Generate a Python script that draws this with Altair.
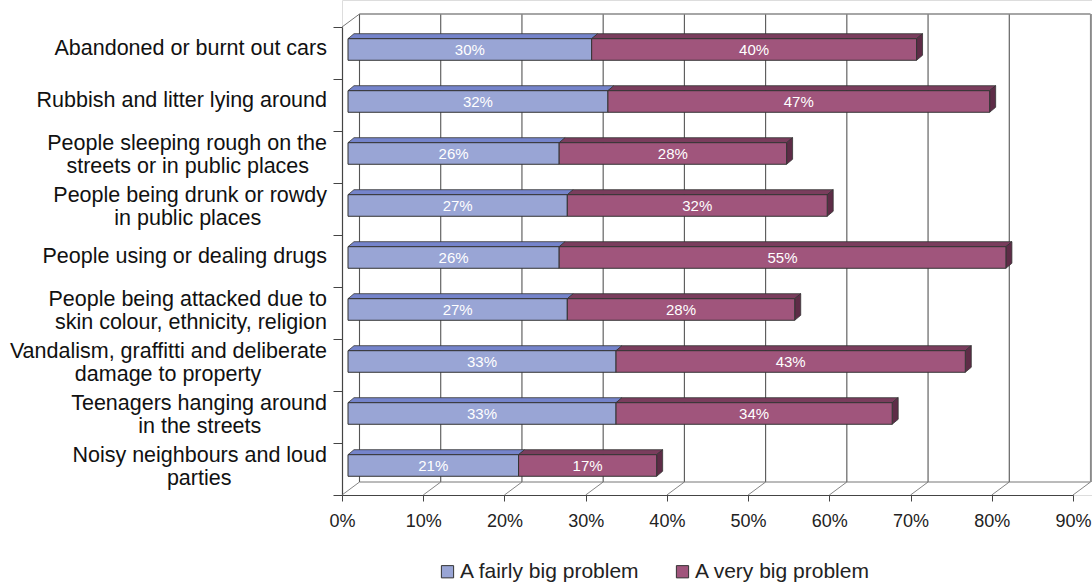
import altair as alt
import pandas as pd

# ---------------- data ----------------
categories = [
    ["Abandoned or burnt out cars"],
    ["Rubbish and litter lying around"],
    ["People sleeping rough on the", "streets or in public places"],
    ["People being drunk or rowdy", "in public places"],
    ["People using or dealing drugs"],
    ["People being attacked due to", "skin colour, ethnicity, religion"],
    ["Vandalism, graffitti and deliberate", "damage to property"],
    ["Teenagers hanging around", "in the streets"],
    ["Noisy neighbours and loud", "parties"],
]
fairly_big = [30, 32, 26, 27, 26, 27, 33, 33, 21]
very_big = [40, 47, 28, 32, 55, 28, 43, 34, 17]
series_names = ["A fairly big problem", "A very big problem"]
x_ticks = [0, 10, 20, 30, 40, 50, 60, 70, 80, 90]

# ---------------- style / geometry constants ----------------
FONT = "Liberation Sans"
FRONT_COLORS = ["#99A5D5", "#A0557C"]
TOP_COLORS = ["#7584CB", "#7A3D5D"]
SIDE_COLOR = "#5E2C47"
EDGE = "#333333"
GRID = "#555555"

X_MAX = 90
X_PX = 731.0              # pixel length of the 0..90 range
PXU = X_PX / X_MAX        # px per percent
ROWS = len(categories)
ROW_PX = 52.0
BACK_DX = 17.5 / PXU      # depth of the 3D box (data units)
BACK_DY = 13.0 / ROW_PX
BAR_DX = 6.0 / PXU        # bars sit a little behind the front plane
BAR_TOP = 0.225
BAR_BOT = 0.64
DEPTH_X = 6.0 / PXU       # depth of each bar
DEPTH_Y = 5.0 / ROW_PX
LABEL_GAP = 15.0 / PXU    # category labels end this far left of the axis
LABEL_SHIFT_1 = -4.0 / ROW_PX    # single-line label offset from band centre
LABEL_SHIFT_2 = -13.0 / ROW_PX   # first line of two-line labels

# Arial/Liberation Sans advance widths (per 1000 em) to centre multi-line labels
W = {" ": 278, ",": 278, ".": 278, "a": 556, "b": 556, "c": 500, "d": 556, "e": 556,
     "f": 278, "g": 556, "h": 556, "i": 222, "j": 222, "k": 500, "l": 222, "m": 833,
     "n": 556, "o": 556, "p": 556, "q": 556, "r": 333, "s": 500, "t": 278, "u": 556,
     "v": 500, "w": 722, "x": 500, "y": 500, "z": 500, "A": 667, "N": 667, "P": 667,
     "R": 722, "T": 611, "V": 667}


def tw(s):
    return sum(W.get(c, 556) for c in s)


def label_text(lines):
    # pad shorter lines with no-break spaces (kept alive by a zero-width
    # space) so that right-aligned lines appear centred on each other
    if len(lines) == 1:
        return lines[0]
    m = max(tw(l) for l in lines)
    out = []
    for l in lines:
        n = int(round((m - tw(l)) / 2 / 278))
        out.append(l + ("\u00a0" * n + "\u200b" if n else ""))
    return "\n".join(out)


labels = [label_text(c) for c in categories]

# ---------------- tables ----------------
rows = []
for i, lab in enumerate(labels):
    start = 0
    for s, vals in zip(series_names, [fairly_big, very_big]):
        v = vals[i]
        rows.append({"label": lab, "row": i, "series": s, "value": v,
                     "start": start, "end": start + v, "seg": f"{i}-{s}"})
        start += v
seg_df = pd.DataFrame(rows)
faces_df = pd.concat([seg_df.assign(k=0), seg_df.assign(k=1)], ignore_index=True)
tick_df = pd.DataFrame({"v": x_ticks})
cat_df = pd.DataFrame({"label": labels, "row": list(range(ROWS))})
one = alt.Data(values=[{"a": 1}])

xs = alt.Scale(domain=[0, X_MAX], range=[0, X_PX], nice=False, zero=False)
ys = alt.Scale(domain=[0, ROWS], range=[27, 27 + ROWS * ROW_PX], nice=False, zero=False)


def X(f, **kw):
    return alt.X(f, type="quantitative", scale=xs, axis=None, **kw)


def Y(f, **kw):
    return alt.Y(f, type="quantitative", scale=ys, axis=None, **kw)


# ---------------- frame (3D box) ----------------
back_grid = alt.Chart(tick_df).transform_calculate(
    xb=f"datum.v + {BACK_DX}", yt=f"{-BACK_DY}", yb=f"{ROWS - BACK_DY}"
).mark_rule(color=GRID, strokeWidth=1.1).encode(
    x=X("xb"), y=Y("yt"), y2="yb:Q")

floor_diag = alt.Chart(tick_df).transform_calculate(
    xb=f"datum.v + {BACK_DX}", yf=f"{ROWS}", yb=f"{ROWS - BACK_DY}"
).mark_rule(color="#666666", strokeWidth=0.8).encode(
    x=X("v"), x2="xb:Q", y=Y("yf"), y2="yb:Q")

back_top = alt.Chart(one).mark_rule(color="#888888", strokeWidth=1.3).encode(
    x=alt.X(datum=BACK_DX, type="quantitative", scale=xs, axis=None),
    x2=alt.X2(datum=X_MAX + BACK_DX),
    y=alt.Y(datum=-BACK_DY, type="quantitative", scale=ys, axis=None))

back_floor = alt.Chart(one).mark_rule(color="#777777", strokeWidth=1).encode(
    x=alt.X(datum=BACK_DX, type="quantitative", scale=xs, axis=None),
    x2=alt.X2(datum=X_MAX + BACK_DX),
    y=alt.Y(datum=ROWS - BACK_DY, type="quantitative", scale=ys, axis=None))

left_diag = alt.Chart(one).mark_rule(color="#777777", strokeWidth=1).encode(
    x=alt.X(datum=0, type="quantitative", scale=xs, axis=None),
    x2=alt.X2(datum=BACK_DX),
    y=alt.Y(datum=0, type="quantitative", scale=ys, axis=None),
    y2=alt.Y2(datum=-BACK_DY))

right_edge = alt.Chart(one).mark_rule(color="#9a9a9a", strokeWidth=2.5).encode(
    x=alt.X(datum=X_MAX + BACK_DX + 0.12, type="quantitative", scale=xs, axis=None),
    y=alt.Y(datum=-BACK_DY, type="quantitative", scale=ys, axis=None),
    y2=alt.Y2(datum=ROWS - BACK_DY))

# ---------------- bars ----------------
top_fill = alt.condition(alt.datum.series == series_names[0],
                         alt.value(TOP_COLORS[0]), alt.value(TOP_COLORS[1]))

top_faces = alt.Chart(faces_df).transform_calculate(
    xa=f"datum.start + {BAR_DX} + datum.k * {DEPTH_X}",
    xb=f"datum.end + {BAR_DX} + datum.k * {DEPTH_X}",
    yy=f"datum.row + {BAR_TOP} - datum.k * {DEPTH_Y}",
).mark_area(orient="horizontal", stroke=EDGE, strokeWidth=0.8).encode(
    y=Y("yy", stack=None), x=X("xa", stack=None), x2="xb:Q",
    detail="seg:N", fill=top_fill)

side_faces = alt.Chart(faces_df).transform_filter(
    alt.datum.series == series_names[1]
).transform_calculate(
    xx=f"datum.end + {BAR_DX} + datum.k * {DEPTH_X}",
    ya=f"datum.row + {BAR_TOP} - datum.k * {DEPTH_Y}",
    yb=f"datum.row + {BAR_BOT} - datum.k * {DEPTH_Y}",
).mark_area(orient="vertical", stroke=EDGE, strokeWidth=0.8, fill=SIDE_COLOR).encode(
    x=X("xx", stack=None), y=Y("ya", stack=None), y2="yb:Q", detail="seg:N")

x_axis = alt.Axis(values=x_ticks, labelExpr="datum.value + '%'", orient="bottom",
                  title=None, grid=False, domainColor="#444444", tickColor="#444444",
                  tickSize=6, labelFontSize=18, labelFont=FONT, labelColor="#222222",
                  labelPadding=11, domainWidth=1, labelFlush=False)

front_faces = alt.Chart(seg_df).transform_calculate(
    xa=f"datum.start + {BAR_DX}", xb=f"datum.end + {BAR_DX}",
    ya=f"datum.row + {BAR_TOP}", yb=f"datum.row + {BAR_BOT}",
).mark_rect(stroke=EDGE, strokeWidth=1).encode(
    x=alt.X("xa:Q", scale=xs, axis=x_axis), x2="xb:Q",
    y=Y("ya"), y2="yb:Q",
    color=alt.Color("series:N",
                    scale=alt.Scale(domain=series_names, range=FRONT_COLORS),
                    legend=alt.Legend(orient="none", legendX=95, legendY=561,
                                      direction="horizontal", title=None,
                                      symbolType="square", symbolSize=150,
                                      symbolStrokeColor=EDGE, symbolStrokeWidth=1,
                                      labelFontSize=21, labelFont=FONT,
                                      labelColor="#222222", labelOffset=2,
                                      columnPadding=32, padding=0, labelLimit=400)))

bar_labels = alt.Chart(seg_df).transform_calculate(
    xm=f"(datum.start + datum.end) / 2 + {BAR_DX}",
    ym=f"datum.row + {(BAR_TOP + BAR_BOT) / 2}",
    txt="datum.value + '%'",
).mark_text(color="white", fontSize=15, font=FONT, baseline="middle", dy=1).encode(
    x=X("xm"), y=Y("ym"), text="txt:N")

# ---------------- category axis (ticks + domain) ----------------
y_axis_layer = alt.Chart(cat_df).mark_tick(opacity=0).encode(
    x=alt.X(datum=0, type="quantitative", scale=xs, axis=None),
    y=alt.Y("label:N", sort=None,
            scale=alt.Scale(domain=labels, range=[27, 27 + ROWS * ROW_PX],
                            paddingInner=0, paddingOuter=0),
            axis=alt.Axis(orient="left", title=None, tickBand="extent", tickSize=9,
                          tickColor="#444444", domainColor="#444444", domainWidth=1.2,
                          labels=False, grid=False)))

# ---------------- category labels ----------------
cat_labels = alt.Chart(cat_df).transform_calculate(
    nl="length(split(datum.label, '\\n'))",
).transform_calculate(
    ly=f"datum.row + 0.5 + (datum.nl > 1 ? {LABEL_SHIFT_2} : {LABEL_SHIFT_1})",
).mark_text(align="right", baseline="middle", fontSize=21.5, font=FONT,
            color="#111111", lineBreak="\n", lineHeight=23).encode(
    x=alt.X(datum=-LABEL_GAP, type="quantitative", scale=xs, axis=None),
    y=Y("ly"), text="label:N")

chart = alt.layer(
    back_grid, floor_diag, back_top, back_floor, left_diag, right_edge,
    top_faces, side_faces, front_faces, bar_labels, y_axis_layer, cat_labels,
).resolve_scale(y="independent").resolve_axis(x="independent").properties(
    width=750, height=495,
    padding={"left": 342, "top": 0, "right": 0, "bottom": 89},
    autosize=alt.AutoSizeParams(type="none"),
    background="white",
).configure_view(stroke="transparent").configure(font=FONT)

chart.save("out.html", embed_options={"renderer": "svg", "actions": False})
